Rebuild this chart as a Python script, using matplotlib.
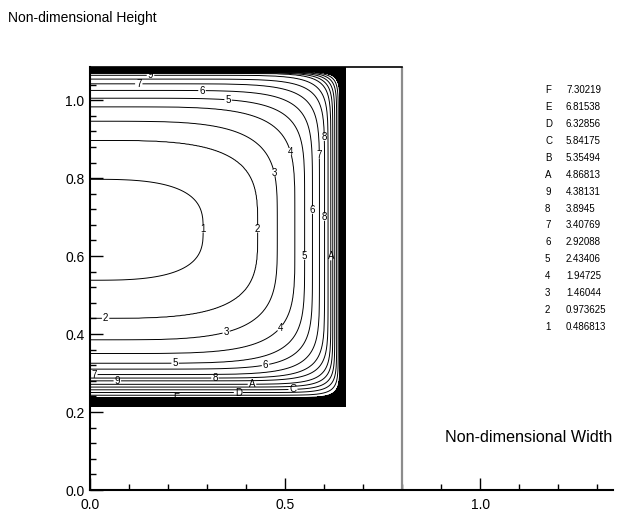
import numpy as np
import matplotlib
matplotlib.use("Agg")
import matplotlib.pyplot as plt
from matplotlib.ticker import MultipleLocator, FormatStrFormatter

plt.rcParams['font.family'] = ['Liberation Sans', 'DejaVu Sans']

# ---------------- data ----------------
level_names = ['1', '2', '3', '4', '5', '6', '7', '8', '9', 'A', 'B', 'C', 'D', 'E', 'F']
level_values = [0.486813, 0.973625, 1.46044, 1.94725, 2.43406, 2.92088, 3.40769,
                3.8945, 4.38131, 4.86813, 5.35494, 5.84175, 6.32856, 6.81538, 7.30219]
level_texts = ['0.486813', '0.973625', '1.46044', '1.94725', '2.43406', '2.92088',
               '3.40769', '3.8945', '4.38131', '4.86813', '5.35494', '5.84175',
               '6.32856', '6.81538', '7.30219']
# crossings of each level: x on the mid line, y above / below the minimum on x=0
cross_x = [0.290, 0.430, 0.480, 0.525, 0.550, 0.570, 0.588, 0.601, 0.610,
           0.617, 0.622, 0.627, 0.632, 0.636, 0.640]
cross_ytop = [0.797, 0.897, 0.946, 0.983, 1.005, 1.025, 1.042, 1.054, 1.064,
              1.069, 1.070, 1.071, 1.072, 1.0725, 1.073]
cross_ybot = [0.538, 0.440, 0.385, 0.350, 0.325, 0.310, 0.296, 0.287, 0.280,
              0.271, 0.264, 0.257, 0.250, 0.243, 0.237]
corner_power = [3.0, 3.6, 4.2, 5.0, 6.0, 7.0, 8.0, 9.5, 11, 13, 15, 17, 19, 22, 25]
# domain walls and the minimum
wall_x, wall_ytop, wall_ybot, wall_value, wall_power = 0.654, 1.085, 0.213, 8.5, 40
y_min_centre = 0.667
# frame
x_max, y_max, divider_x = 1.34, 1.085, 0.8

# label positions (level label placement)
label_pos = [(0.29, 0.67), (0.43, 0.67), (0.04, 0.44), (0.48, 0.816), (0.35, 0.397),
             (0.52, 0.87), (0.50, 0.405), (0.354, 1.005), (0.55, 0.60), (0.218, 0.325),
             (0.287, 1.025), (0.57, 0.718), (0.45, 0.319), (0.125, 1.042), (0.58, 0.86),
             (0.01, 0.296), (0.155, 1.064), (0.60, 0.905), (0.07, 0.280), (0.32, 0.287),
             (0.60, 0.70), (0.415, 0.271), (0.617, 0.60), (0.38, 0.250), (0.52, 0.257),
             (0.22, 0.237)]

# ---------------- field built from the crossings ----------------
ax_c = np.array(cross_x + [wall_x])
bt_c = np.array(cross_ytop + [wall_ytop]) - y_min_centre
bb_c = y_min_centre - np.array(cross_ybot + [wall_ybot])
pw_c = np.array(corner_power + [wall_power], dtype=float)
vals = np.array(level_values + [wall_value])

xg = np.linspace(0, wall_x, 420)
yg = np.linspace(wall_ybot, wall_ytop, 560)
X, Y = np.meshgrid(xg, yg)
DY = Y - y_min_centre
rho = np.empty((len(vals),) + X.shape)
for k in range(len(vals)):
    b = np.where(DY >= 0, bt_c[k], bb_c[k])
    r = (X / ax_c[k]) ** pw_c[k] + (np.abs(DY) / b) ** pw_c[k]
    rho[k] = r ** (1.0 / pw_c[k])
Fld = np.full(X.shape, wall_value)
inside = rho[0] <= 1
Fld[inside] = vals[0] * rho[0][inside] ** 2
done = inside.copy()
for k in range(1, len(vals)):
    m = (~done) & (rho[k] <= 1)
    frac = (rho[k - 1][m] - 1) / (rho[k - 1][m] - rho[k][m])
    Fld[m] = vals[k - 1] + frac * (vals[k] - vals[k - 1])
    done |= m

# ---------------- figure ----------------
fig = plt.figure(figsize=(6.19, 5.15), dpi=100)
ax = fig.add_axes([90 / 619, 1 - 490 / 515, 523 / 619, 423 / 515])
ax.set_xlim(0, x_max)
ax.set_ylim(0, y_max)

ax.contourf(X, Y, Fld, levels=[level_values[-1], 100], colors='black')
cs = ax.contour(X, Y, Fld, levels=level_values, colors='black', linewidths=0.7)
fmt = {lv: nm for lv, nm in zip(cs.levels, level_names)}
texts = ax.clabel(cs, fmt=fmt, fontsize=7, inline=True, inline_spacing=1, manual=label_pos)
for t in texts:
    t.set_rotation(0)

ax.axvline(divider_x, color='#8c8c8c', lw=1.6)
ax.plot([0, divider_x], [y_max, y_max], color='black', lw=1.2, clip_on=False)

for s in ['top', 'right']:
    ax.spines[s].set_visible(False)
for s in ['left', 'bottom']:
    ax.spines[s].set_linewidth(1.5)

ax.xaxis.set_major_locator(MultipleLocator(0.5))
ax.xaxis.set_minor_locator(MultipleLocator(0.1))
ax.yaxis.set_major_locator(MultipleLocator(0.2))
ax.yaxis.set_minor_locator(MultipleLocator(0.04))
ax.xaxis.set_major_formatter(FormatStrFormatter('%.1f'))
ax.yaxis.set_major_formatter(FormatStrFormatter('%.1f'))
ax.tick_params(which='major', direction='in', length=9, width=1, labelsize=10, pad=6)
ax.tick_params(which='minor', direction='in', length=4, width=1)
ax.tick_params(axis='y', pad=4)

fig.text(8 / 619, 1 - 18 / 515, 'Non-dimensional Height', fontsize=10, va='center', ha='left')
fig.text(445 / 619, 1 - 437 / 515, 'Non-dimensional Width', fontsize=11.6, va='center', ha='left')

for i, (nm, tx) in enumerate(zip(level_names[::-1], level_texts[::-1])):
    yy = 1 - (90 + i * 16.93) / 515
    fig.text(545 / 619, yy, nm, fontsize=7, va='center', ha='left')
    fig.text(566 / 619, yy, tx, fontsize=7, va='center', ha='left')

fig.savefig('out.png', dpi=100)
